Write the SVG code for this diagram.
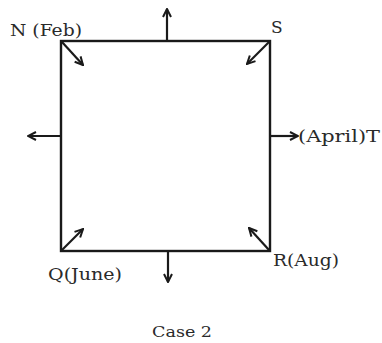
<svg xmlns="http://www.w3.org/2000/svg" width="382" height="343" viewBox="0 0 382 343">
<defs>
<marker id="ah" viewBox="0 0 10 10" refX="9" refY="5" markerWidth="10" markerHeight="10" markerUnits="userSpaceOnUse" orient="auto">
<path d="M1,1 L9,5 L1,9" fill="none" stroke="#1a1a1a" stroke-width="2"/>
</marker>
</defs>
<style>
.edge{stroke:#1a1a1a;stroke-width:2.2;fill:none;marker-end:url(#ah)}
.box{stroke:#1a1a1a;stroke-width:2.4;fill:none}
.lbl{font-family:"DejaVu Serif","Liberation Serif",serif;font-size:17px;fill:#2a2a2a}
</style>
<rect width="382" height="343" fill="#fff"/>
<g id="square"><rect class="box" x="61" y="41" width="209" height="210"/></g>
<g id="connectors">
<line class="edge" x1="167" y1="41" x2="167" y2="9"/>
<line class="edge" x1="168" y1="251" x2="168" y2="282"/>
<line class="edge" x1="61" y1="136" x2="28" y2="136"/>
<line class="edge" x1="270" y1="136" x2="298" y2="136"/>
<line class="edge" x1="62" y1="42" x2="83" y2="65"/>
<line class="edge" x1="269" y1="42" x2="247" y2="64"/>
<line class="edge" x1="62" y1="250" x2="83" y2="229"/>
<line class="edge" x1="269" y1="250" x2="249" y2="228"/>
</g>
<g id="N"><text class="lbl" x="10" y="36" textLength="72" lengthAdjust="spacingAndGlyphs">N (Feb)</text></g>
<g id="S"><text class="lbl" x="271" y="33">S</text></g>
<g id="T"><text class="lbl" x="298" y="142" textLength="82" lengthAdjust="spacingAndGlyphs">(April)T</text></g>
<g id="Q"><text class="lbl" x="48" y="280" textLength="74" lengthAdjust="spacingAndGlyphs">Q(June)</text></g>
<g id="R"><text class="lbl" x="273" y="266" textLength="66" lengthAdjust="spacingAndGlyphs">R(Aug)</text></g>
<g id="caption"><text class="lbl" x="152" y="337" style="font-size:15px" textLength="60" lengthAdjust="spacingAndGlyphs">Case 2</text></g>
</svg>
